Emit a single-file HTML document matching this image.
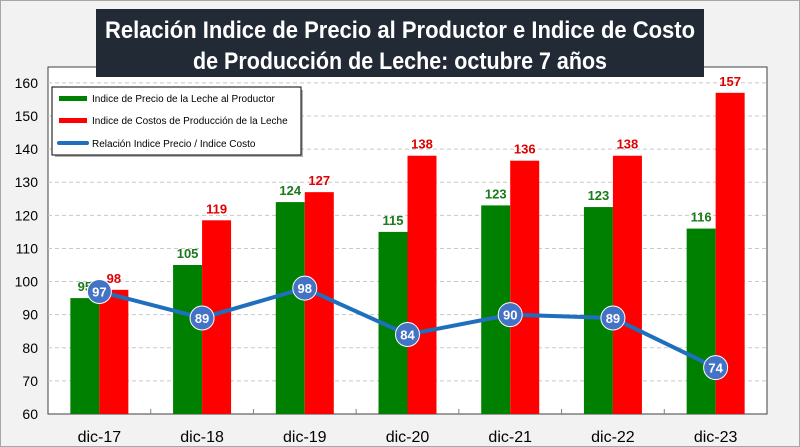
<!DOCTYPE html>
<html><head><meta charset="utf-8"><style>
body{margin:0;width:800px;height:447px;overflow:hidden;background:#f2f2f2;font-family:"Liberation Sans",sans-serif}
svg{display:block}
</style></head><body>
<svg id="c" width="800" height="447" xmlns="http://www.w3.org/2000/svg">
<rect x="0.5" y="0.5" width="799" height="446" fill="#f2f2f2" stroke="#a6a6a6"/>
<rect x="48" y="67" width="719" height="347" fill="#fff" stroke="#404040" stroke-width="1"/>
<g id="grid"></g><g id="yt"></g><g id="bars"></g><g id="line"></g><g id="xt"></g>
<g>
<rect x="96" y="9" width="608" height="68" fill="#222a35"/>
<text x="400" y="38" text-anchor="middle" fill="#fff" font-size="24" font-weight="bold" textLength="590" lengthAdjust="spacingAndGlyphs">Relación Indice de Precio al Productor e Indice de Costo</text>
<text x="400" y="69" text-anchor="middle" fill="#fff" font-size="24" font-weight="bold" textLength="414" lengthAdjust="spacingAndGlyphs">de Producción de Leche: octubre 7 años</text>
</g>
<g>
<rect x="55" y="90" width="248" height="67" fill="#7f7f7f" opacity="0.6"/>
<rect x="52" y="87" width="249" height="68" fill="#fff" stroke="#000" stroke-width="1"/>
<rect x="59" y="96" width="28" height="5" fill="#008000"/>
<text x="92" y="102" font-size="10">Indice de Precio de la Leche al Productor</text>
<rect x="59" y="118" width="28" height="5" fill="#ff0000"/>
<text x="92" y="124" font-size="10">Indice de Costos de Producción de la Leche</text>
<line x1="59" y1="143" x2="87" y2="143" stroke="#1f6fbf" stroke-width="4" stroke-linecap="round"/>
<text x="92" y="147" font-size="10">Relación Indice Precio / Indice Costo</text>
</g>
</svg>
<script>
const categories=["dic-17","dic-18","dic-19","dic-20","dic-21","dic-22","dic-23"];
const priceIdx=[95,105,124,115,123,122.5,116];
const costIdx=[97.5,118.5,127,138,136.5,138,157];
const ratio=[97,89,98,84,90,89,74];
const priceLabels=["95","105","124","115","123","123","116"];
const costLabels=["98","119","127","138","136","138","157"];
const ratioLabels=["97","89","98","84","90","89","74"];
const yTicks=[60,70,80,90,100,110,120,130,140,150,160];
const NS="http://www.w3.org/2000/svg";
const L=48,R=767,T=67,B=414,yMin=60,yMax=164.8;
const bw=(R-L)/categories.length;
const y=v=>B-(v-yMin)/(yMax-yMin)*(B-T);
const xc=i=>L+bw*(i+0.5);
function mk(tag,attrs,parent,text){const e=document.createElementNS(NS,tag);for(const k in attrs)e.setAttribute(k,attrs[k]);if(text!==undefined)e.textContent=text;document.getElementById(parent).appendChild(e);return e;}
yTicks.forEach(t=>{
 if(t>yMin){const g=mk('line',{x1:L,x2:R,y1:y(t),y2:y(t),stroke:'#c8c8c8','stroke-dasharray':'4,3'},'grid');
 
 }
 const e=mk('text',{x:38,y:y(t)+5,'text-anchor':'end','font-size':'14'},'yt',String(t));
 
 
});
categories.forEach((c,i)=>{
 const cx=xc(i),w=29;
 const g=mk('rect',{x:cx-w,y:y(priceIdx[i]),width:w,height:B-y(priceIdx[i]),fill:'#008000'},'bars');
 
 
 const r=mk('rect',{x:cx,y:y(costIdx[i]),width:w,height:B-y(costIdx[i]),fill:'#ff0000'},'bars');
 
 
 const gl=mk('text',{x:cx-w/2,y:y(priceIdx[i])-7,'text-anchor':'middle','font-size':'13','font-weight':'bold',fill:'#1a7a1a'},'bars',priceLabels[i]);
 
 
 const rl=mk('text',{x:cx+w/2,y:y(costIdx[i])-7,'text-anchor':'middle','font-size':'13','font-weight':'bold',fill:'#e00000'},'bars',costLabels[i]);
 
 
 const xl=mk('text',{x:cx,y:442,'text-anchor':'middle','font-size':'16'},'xt',c);
 
 
 if(i>0){const tk=mk('line',{x1:L+bw*i,x2:L+bw*i,y1:B,y2:B-5,stroke:'#808080'},'xt');
 
 }
});
const pts=ratio.map((v,i)=>xc(i)+','+y(v)).join(' ');
const pl=mk('polyline',{points:pts,fill:'none',stroke:'#1f6fbf','stroke-width':'4'},'line');


ratio.forEach((v,i)=>{
 const c=mk('circle',{cx:xc(i),cy:y(v),r:12,fill:'#4472c4',stroke:'#fff','stroke-width':'1'},'line');
 
 
 const t=mk('text',{x:xc(i),y:y(v)+5,'text-anchor':'middle','font-size':'13','font-weight':'bold',fill:'#fff'},'line',ratioLabels[i]);
 
 
});
</script>
</body></html>
